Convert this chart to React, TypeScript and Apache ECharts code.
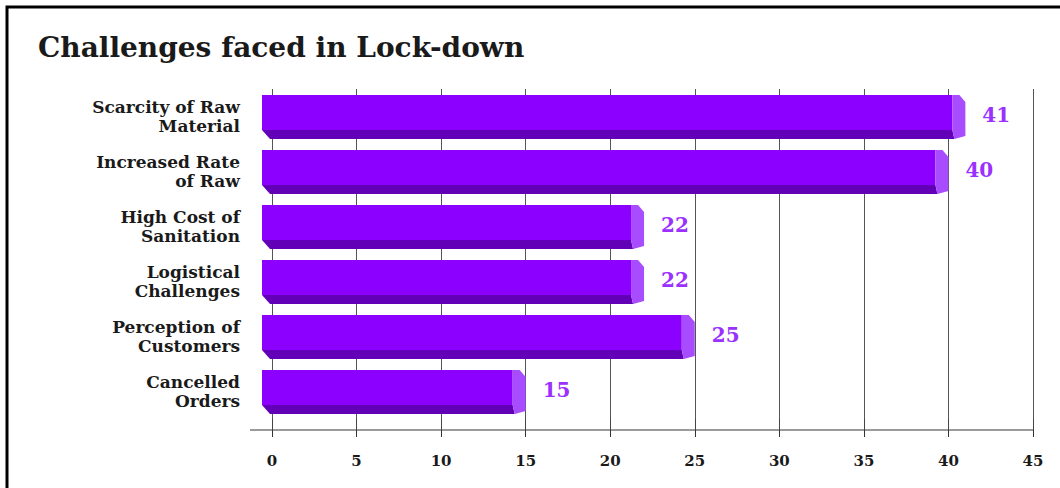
import React, { useEffect, useRef } from "react";
import * as echarts from "echarts";

const title = "Challenges faced in Lock-down";
const categories = [
  "Scarcity of Raw\nMaterial",
  "Increased Rate\nof Raw",
  "High Cost of\nSanitation",
  "Logistical\nChallenges",
  "Perception of\nCustomers",
  "Cancelled\nOrders",
];
const values = [41, 40, 22, 22, 25, 15];
const axisMin = 0;
const axisMax = 45;
const axisStep = 5;

const FONT = "'DejaVu Serif', Georgia, serif";

export default function App() {
  const ref = useRef<HTMLDivElement>(null);
  useEffect(() => {
    if (!ref.current) return;
    const chart = echarts.init(ref.current, undefined, { renderer: "svg" });
    const option: any = {
      animation: false,
      backgroundColor: "#ffffff",
      title: {
        text: title,
        left: 38,
        top: 33,
        padding: 0,
        textStyle: { fontFamily: FONT, fontWeight: "bold", fontSize: 28, color: "#1a1a1a" },
      },
      grid: { left: 272, right: 27, top: 89, bottom: 69, containLabel: false },
      xAxis: [
        {
          type: "value",
          min: axisMin,
          max: axisMax,
          interval: axisStep,
          axisLine: { show: false },
          axisTick: { show: true, length: 11, lineStyle: { color: "#444", width: 1 } },
          axisLabel: { show: false },
          splitLine: { show: true, lineStyle: { color: "#555", width: 1 } },
        },
        {
          type: "value",
          position: "bottom",
          offset: 11,
          min: axisMin,
          max: axisMax,
          interval: axisStep,
          axisLine: { show: true, lineStyle: { color: "#9a9a9a", width: 2 } },
          axisTick: { show: true, length: 7, lineStyle: { color: "#333", width: 1 } },
          axisLabel: {
            margin: 23,
            fontFamily: FONT,
            fontWeight: "bold",
            fontSize: 15,
            color: "#1a1a1a",
          },
          splitLine: { show: false },
        },
      ],
      yAxis: {
        type: "category",
        inverse: true,
        data: categories,
        axisLine: { show: false },
        axisTick: { show: false },
        axisLabel: {
          margin: 32,
          fontFamily: FONT,
          fontWeight: "bold",
          fontSize: 17,
          lineHeight: 19,
          color: "#1a1a1a",
          align: "right",
        },
      },
      series: [
        {
          type: "custom",
          xAxisIndex: 0,
          encode: { x: 0, y: 1 },
          data: values.map((v, i) => [v, i]),
          renderItem: (params: any, api: any) => {
            const v = api.value(0);
            const c = api.value(1);
            const end = api.coord([v, c]);
            const start = api.coord([0, c]);
            const band = api.size([0, 1])[1];
            const h = band * 0.8;
            const top = end[1] - h / 2 + 0.5;
            const bot = top + h;
            const x0 = start[0] - 10;
            const xe = end[0];
            const d = 13;
            const s = 9;
            return {
              type: "group",
              children: [
                {
                  type: "polygon",
                  shape: { points: [[x0, top], [xe - d, top], [xe - d, bot - s], [x0, bot - s]] },
                  style: { fill: "#8c00ff" },
                },
                {
                  type: "polygon",
                  shape: { points: [[x0, bot - s], [xe - d, bot - s], [xe - d + 2, bot], [x0 + 8, bot]] },
                  style: { fill: "#6200b8" },
                },
                {
                  type: "polygon",
                  shape: {
                    points: [[xe - d, top], [xe - 6, top], [xe, top + 7], [xe, bot - 3], [xe - d + 2, bot], [xe - d, bot - s]],
                  },
                  style: { fill: "#a84cff" },
                },
                {
                  type: "text",
                  x: xe + 17,
                  y: top + h / 2 - 2,
                  style: {
                    text: String(v),
                    fontFamily: FONT,
                    fontWeight: "bold",
                    fontSize: 20,
                    fill: "#9b30ff",
                    verticalAlign: "middle",
                    align: "left",
                  },
                },
              ],
            };
          },
        },
      ],
    };
    chart.setOption(option);
    const xz = chart.convertToPixel({ xAxisIndex: 1 }, axisMin) as number;
    const grid: any = (chart as any).getModel().getComponent("grid", 0).coordinateSystem.getRect();
    const yAxisLine = grid.y + grid.height + 11;
    chart.setOption({
      graphic: [
        {
          type: "rect",
          shape: { x: 7, y: 7, width: 1200, height: 800 },
          style: { fill: "none", stroke: "#000", lineWidth: 3 },
          silent: true,
        },
        {
          type: "line",
          shape: { x1: xz - 22, y1: yAxisLine, x2: xz, y2: yAxisLine },
          style: { stroke: "#9a9a9a", lineWidth: 2 },
          silent: true,
        },
      ],
    });
    return () => chart.dispose();
  }, []);
  return (
    <div
      ref={ref}
      style={{ position: "absolute", left: 0, top: 0, width: 1060, height: 488 }}
    />
  );
}
